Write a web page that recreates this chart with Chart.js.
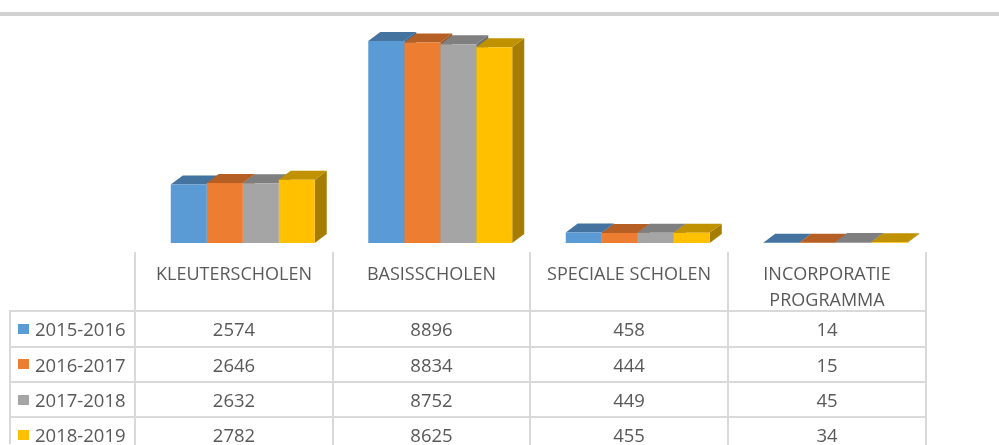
<!DOCTYPE html>
<html>
<head>
<meta charset="utf-8">
<script src="https://cdn.jsdelivr.net/npm/chart.js@4.4.0/dist/chart.umd.min.js"></script>
<style>
  html, body { margin: 0; padding: 0; background: #fff; }
  body { width: 999px; height: 445px; position: relative; overflow: hidden; font-family: "Open Sans", sans-serif; color: #595959; }
  #topline { position: absolute; left: 0; top: 12px; width: 999px; height: 4px; background: #d2d2d2; }
  #c { position: absolute; left: 0; top: 0; }
  .vl { position: absolute; width: 2px; background: #d9d9d9; }
  .hl { position: absolute; height: 2px; background: #d9d9d9; }
  .hdr { position: absolute; text-align: center; font-size: 18px; line-height: 26px; }
  .cell { position: absolute; text-align: center; font-size: 18.5px; display: flex; align-items: center; justify-content: center; }
  .leg { position: absolute; font-size: 18.5px; display: flex; align-items: center; }
  .key { display: inline-block; width: 11px; height: 10px; margin-right: 6px; }
</style>
</head>
<body>
<div id="topline"></div>
<canvas id="c" width="999" height="445"></canvas>
<div id="table"></div>
<script>
const categories = ['KLEUTERSCHOLEN', 'BASISSCHOLEN', 'SPECIALE SCHOLEN', 'INCORPORATIE PROGRAMMA'];
const seriesNames = ['2015-2016', '2016-2017', '2017-2018', '2018-2019'];
const s2015 = [2574, 8896, 458, 14];
const s2016 = [2646, 8834, 444, 15];
const s2017 = [2632, 8752, 449, 45];
const s2018 = [2782, 8625, 455, 34];
const frontColors = ['#5b9bd5', '#ed7d31', '#a5a5a5', '#ffc000'];
const topColors = ['#44739f', '#b55f25', '#7f7f7f', '#c09100'];
const sideColors = ['#3b6690', '#a0531f', '#6e6e6e', '#a67d00'];
const seriesValues = [s2015, s2016, s2017, s2018];

const depth3d = {
  id: 'depth3d',
  beforeDatasetsDraw(chart) {
    const ctx = chart.ctx;
    const dx = 12, dy = -9;
    const n = chart.data.labels.length;
    ctx.save();
    for (let j = 0; j < n; j++) {
      for (let i = 0; i < chart.data.datasets.length; i++) {
        const el = chart.getDatasetMeta(i).data[j];
        const p = el.getProps(['x', 'y', 'base', 'width'], true);
        const l = p.x - p.width / 2, r = p.x + p.width / 2;
        ctx.fillStyle = sideColors[i];
        ctx.beginPath();
        ctx.moveTo(r, p.y); ctx.lineTo(r + dx, p.y + dy); ctx.lineTo(r + dx, p.base + dy); ctx.lineTo(r, p.base);
        ctx.closePath(); ctx.fill();
        ctx.fillStyle = topColors[i];
        ctx.beginPath();
        ctx.moveTo(l, p.y); ctx.lineTo(l + dx, p.y + dy); ctx.lineTo(r + dx, p.y + dy); ctx.lineTo(r, p.y);
        ctx.closePath(); ctx.fill();
      }
    }
    ctx.restore();
  }
};

new Chart(document.getElementById('c'), {
  type: 'bar',
  data: {
    labels: categories,
    datasets: seriesValues.map((v, i) => ({
      label: seriesNames[i], data: v, backgroundColor: frontColors[i], borderWidth: 0,
      categoryPercentage: 0.729, barPercentage: 1.0
    }))
  },
  options: {
    responsive: false, animation: false, devicePixelRatio: 1,
    layout: { padding: { left: 144, right: 65, top: 16, bottom: 202 } },
    plugins: { legend: { display: false }, tooltip: { enabled: false } },
    scales: {
      x: { display: false },
      y: { display: false, min: 0, max: 10000 }
    }
  },
  plugins: [depth3d]
});

// data table below the chart
const tbl = document.getElementById('table');
const colX = [10, 135, 333, 530, 728, 926];
const rowY = [250, 311, 346.5, 382, 417, 452];
function add(cls, style, html) {
  const d = document.createElement('div');
  d.className = cls;
  Object.assign(d.style, style);
  if (html !== undefined) d.innerHTML = html;
  tbl.appendChild(d);
  return d;
}
// vertical lines
add('vl', { left: (colX[0] - 1) + 'px', top: (rowY[1] - 1) + 'px', height: (445 - rowY[1]) + 'px' });
for (let k = 1; k < colX.length; k++) {
  add('vl', { left: (colX[k] - 1) + 'px', top: rowY[0] + 2 + 'px', height: (445 - rowY[0]) + 'px' });
}
// horizontal lines
for (let k = 1; k < rowY.length - 1; k++) {
  add('hl', { left: (colX[0] - 1) + 'px', top: (rowY[k] - 1) + 'px', width: (colX[5] - colX[0] + 2) + 'px' });
}
// header
categories.forEach((c, j) => {
  add('hdr', { left: colX[j + 1] + 'px', top: '260px', width: (colX[j + 2] - colX[j + 1]) + 'px' }, c);
});
// rows
seriesValues.forEach((vals, i) => {
  const top = rowY[i + 1], h = rowY[i + 2] - rowY[i + 1];
  const lg = add('leg', { left: '18px', top: top + 'px', height: h + 'px' });
  const key = document.createElement('span');
  key.className = 'key'; key.style.background = frontColors[i];
  lg.appendChild(key);
  lg.appendChild(document.createTextNode(seriesNames[i]));
  vals.forEach((v, j) => {
    add('cell', { left: colX[j + 1] + 'px', top: top + 'px', width: (colX[j + 2] - colX[j + 1]) + 'px', height: h + 'px' }, String(v));
  });
});
</script>
</body>
</html>
